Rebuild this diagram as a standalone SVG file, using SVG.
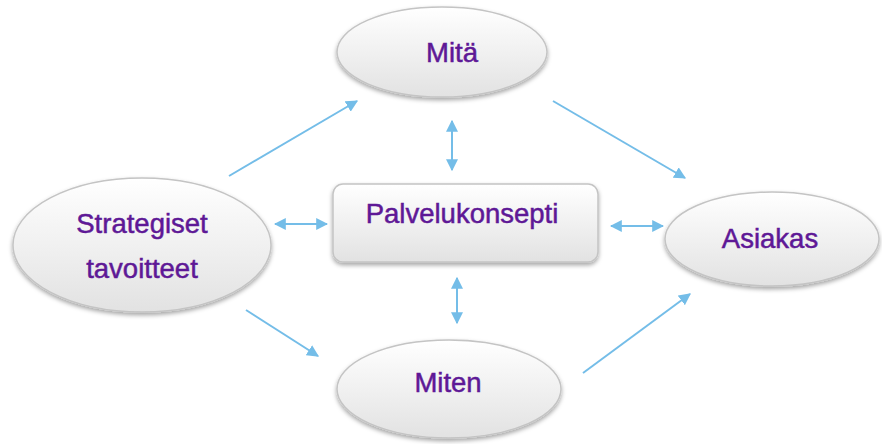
<svg xmlns="http://www.w3.org/2000/svg" width="882" height="444" viewBox="0 0 882 444">
  <style>
    .node { fill: url(#nodeFill); stroke: #c4c4c4; stroke-width: 1.5; filter: url(#shadow); }
    .label { font-family: "Liberation Sans", Arial, sans-serif; font-size: 27.5px; fill: #5e1896; stroke: #5e1896; stroke-width: 0.5; text-anchor: middle; }
    .conn { stroke: #74bde8; stroke-width: 2; fill: none; }
  </style>
  <defs>
    <linearGradient id="nodeFill" x1="0" y1="0" x2="0" y2="1">
      <stop offset="0" stop-color="#ffffff"/>
      <stop offset="1" stop-color="#e2e2e2"/>
    </linearGradient>
    <filter id="shadow" x="-10%" y="-10%" width="120%" height="130%">
      <feDropShadow dx="0" dy="2.5" stdDeviation="2" flood-color="#000000" flood-opacity="0.35"/>
    </filter>
    <marker id="head" viewBox="0 0 10 10" refX="9" refY="5" markerWidth="6" markerHeight="6" orient="auto-start-reverse" markerUnits="strokeWidth">
      <path d="M0,0 L10,5 L0,10 z" fill="#74bde8"/>
    </marker>
  </defs>

  <g id="connectors">
    <line class="conn" x1="229" y1="176" x2="357" y2="101" marker-end="url(#head)"/>
    <line class="conn" x1="553" y1="101" x2="685" y2="178" marker-end="url(#head)"/>
    <line class="conn" x1="246" y1="310" x2="318" y2="356" marker-end="url(#head)"/>
    <line class="conn" x1="583" y1="373" x2="690" y2="294" marker-end="url(#head)"/>
    <line class="conn" x1="452" y1="121" x2="452" y2="170" marker-start="url(#head)" marker-end="url(#head)"/>
    <line class="conn" x1="457" y1="278" x2="457" y2="323" marker-start="url(#head)" marker-end="url(#head)"/>
    <line class="conn" x1="275" y1="224" x2="327" y2="224" marker-start="url(#head)" marker-end="url(#head)"/>
    <line class="conn" x1="611" y1="226" x2="663" y2="226" marker-start="url(#head)" marker-end="url(#head)"/>
  </g>

  <g id="mita">
    <ellipse class="node" cx="442" cy="52" rx="105" ry="45"/>
    <text class="label" x="452" y="62">Mitä</text>
  </g>

  <g id="palvelukonsepti">
    <rect class="node" x="333" y="184" width="265" height="78" rx="10"/>
    <text class="label" x="462" y="223">Palvelukonsepti</text>
  </g>

  <g id="strategiset">
    <ellipse class="node" cx="142" cy="245" rx="129" ry="67"/>
    <text class="label" x="142" y="233">Strategiset</text>
    <text class="label" x="142" y="278">tavoitteet</text>
  </g>

  <g id="asiakas">
    <ellipse class="node" cx="772" cy="239" rx="107" ry="47"/>
    <text class="label" x="770" y="248">Asiakas</text>
  </g>

  <g id="miten">
    <ellipse class="node" cx="449" cy="389" rx="112" ry="49"/>
    <text class="label" x="448" y="392">Miten</text>
  </g>
</svg>
